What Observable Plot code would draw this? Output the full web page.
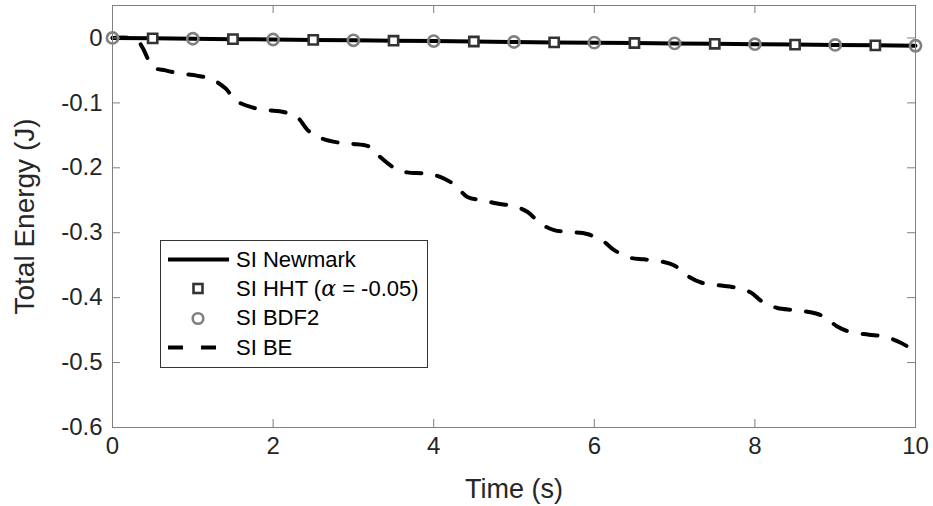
<!DOCTYPE html>
<html><head><meta charset="utf-8">
<script src="https://cdn.jsdelivr.net/npm/d3@7"></script>
<script src="https://cdn.jsdelivr.net/npm/@observablehq/plot@0.6"></script>
<style>
body{margin:0;background:#fff;}
#wrap{position:relative;width:933px;height:506px;}
#legend{position:absolute;left:160px;top:240px;height:128px;padding-right:8px;border:1px solid #333;background:#fff;font-family:"Liberation Sans",Arial,sans-serif;font-size:22px;color:#000;box-sizing:border-box;}
.row{height:29.3px;display:flex;align-items:center;white-space:nowrap;}
.row svg{width:75px;height:29px;flex:none;}
.greek{font-family:"DejaVu Serif","Liberation Serif",serif;font-style:italic;}
</style></head><body><div id="wrap"></div>
<script>
// ---- data ----
const newmarkT = [0,0.5,1,1.5,2,2.5,3,3.5,4,4.5,5,5.5,6,6.5,7,7.5,8,8.5,9,9.5,10];
const newmarkE = [0,-0.0006,-0.0012,-0.0018,-0.0024,-0.003,-0.0036,-0.0042,-0.0048,-0.0054,-0.0062,-0.0068,-0.0072,-0.0078,-0.0084,-0.009,-0.0096,-0.0102,-0.0108,-0.0114,-0.012];
const hhtT = [0.5,1.5,2.5,3.5,4.5,5.5,6.5,7.5,8.5,9.5];
const hhtE = [-0.0006,-0.0018,-0.003,-0.0042,-0.0054,-0.0068,-0.0078,-0.009,-0.0102,-0.0114];
const bdfT = [0,1,2,3,4,5,6,7,8,9,10];
const bdfE = [0,-0.0012,-0.0024,-0.0036,-0.0048,-0.0062,-0.0072,-0.0084,-0.0096,-0.0108,-0.012];
const beT = [0,0.3,0.37,0.51,0.66,0.85,1.05,1.24,1.41,1.53,1.74,1.93,2.13,2.30,2.44,2.59,2.81,2.98,3.21,3.34,3.52,3.67,3.90,4.08,4.27,4.42,4.60,4.79,4.99,5.17,5.33,5.50,5.70,5.91,6.10,6.24,6.43,6.62,6.82,6.99,7.18,7.34,7.55,7.74,7.95,8.09,8.28,8.48,8.67,8.86,9.02,9.19,9.42,9.61,9.81,10];
const beE = [0,-0.002,-0.014,-0.045,-0.050,-0.055,-0.058,-0.064,-0.078,-0.096,-0.107,-0.111,-0.114,-0.122,-0.143,-0.154,-0.161,-0.163,-0.168,-0.184,-0.201,-0.207,-0.209,-0.214,-0.227,-0.245,-0.250,-0.255,-0.259,-0.268,-0.286,-0.296,-0.299,-0.302,-0.312,-0.326,-0.338,-0.341,-0.344,-0.350,-0.368,-0.377,-0.381,-0.384,-0.392,-0.406,-0.416,-0.419,-0.422,-0.429,-0.444,-0.453,-0.457,-0.460,-0.469,-0.483];
const xTicks = [0,2,4,6,8,10];
const xTickLabels = ["0","2","4","6","8","10"];
const yTicks = [0,-0.1,-0.2,-0.3,-0.4,-0.5,-0.6];
const yTickLabels = ["0","-0.1","-0.2","-0.3","-0.4","-0.5","-0.6"];
const xLabel = "Time (s)";
const yLabel = "Total Energy (J)";
const seriesNames = ["SI Newmark","SI HHT","SI BDF2","SI BE"];

const newmark = newmarkT.map((t,i)=>({t, e:newmarkE[i]}));
const hht = hhtT.map((t,i)=>({t, e:hhtE[i]}));
const bdf = bdfT.map((t,i)=>({t, e:bdfE[i]}));
const be = beT.map((t,i)=>({t, e:beE[i]}));

const W = 933, H = 506, mL = 112, mR = 18, mT = 5, mB = 79;
const frameW = W - mL - mR, frameH = H - mT - mB, tickLen = 8;
const axisCol = "#808080", textCol = "#262626";

const chart = Plot.plot({
  width: W, height: H,
  marginLeft: mL, marginRight: mR, marginTop: mT, marginBottom: mB,
  style: {fontFamily: "'Liberation Sans', Arial, sans-serif", fontSize: "24px", color: textCol, background: "#fff"},
  x: {domain: [0,10]},
  y: {domain: [-0.6, 0.05]},
  marks: [
    Plot.line(be, {x:"t", y:"e", stroke:"#000", strokeWidth:4, strokeDasharray:"15,16", curve:"catmull-rom"}),
    Plot.line(newmark, {x:"t", y:"e", stroke:"#000", strokeWidth:4}),
    Plot.dot(hht, {x:"t", y:"e", symbol:"square", r:5.2, stroke:"#333", strokeWidth:2.6, fill:"#fff"}),
    Plot.dot(bdf, {x:"t", y:"e", symbol:"circle", r:5.6, stroke:"#808080", strokeWidth:2.6, fill:"none"}),
    Plot.frame({stroke: axisCol, strokeWidth: 1}),
    Plot.tickX(xTicks, {x: d=>d, insetTop: frameH - tickLen, stroke: axisCol}),
    Plot.tickX(xTicks, {x: d=>d, insetBottom: frameH - tickLen, stroke: axisCol}),
    Plot.tickY(yTicks, {y: d=>d, insetRight: frameW - tickLen, stroke: axisCol}),
    Plot.tickY(yTicks, {y: d=>d, insetLeft: frameW - tickLen, stroke: axisCol}),
    Plot.axisX({ticks: xTicks, tickSize: 0, tickPadding: 9, fontSize: 24, label: null,
      tickFormat: d => xTickLabels[xTicks.indexOf(d)]}),
    Plot.axisY({ticks: yTicks, tickSize: 0, tickPadding: 10, fontSize: 24, label: null,
      tickFormat: d => yTickLabels[yTicks.findIndex(v => Math.abs(v - d) < 1e-9)]}),
    Plot.text([xLabel], {text: d=>d, frameAnchor: "bottom", textAnchor: "middle", lineAnchor: "bottom", dy: 70, fontSize: 27, fill: textCol}),
    Plot.text([yLabel], {text: d=>d, frameAnchor: "left", textAnchor: "middle", lineAnchor: "bottom", rotate: -90, dx: -79, fontSize: 28, fill: textCol})
  ]
});
document.getElementById("wrap").appendChild(chart);

// ---- legend ----
const legend = document.createElement("div");
legend.id = "legend";
legend.style.paddingTop = "4px";
const rows = [
  {svg: '<line x1="7" x2="68" y1="14.5" y2="14.5" stroke="#000" stroke-width="4"/>', text: seriesNames[0]},
  {svg: '<rect x="32.5" y="10" width="9" height="9" fill="#fff" stroke="#333" stroke-width="2.6"/>', text: seriesNames[1] + ' (<span class="greek">α</span> = -0.05)'},
  {svg: '<circle cx="37" cy="14.5" r="5.3" fill="none" stroke="#808080" stroke-width="2.6"/>', text: seriesNames[2]},
  {svg: '<line x1="7" x2="68" y1="14.5" y2="14.5" stroke="#000" stroke-width="4" stroke-dasharray="15,18"/>', text: seriesNames[3]}
];
rows.forEach((r,i)=>{
  const d = document.createElement("div");
  d.className = "row";
  d.innerHTML = '<svg viewBox="0 0 75 29">' + r.svg + '</svg><span>' + r.text + '</span>';
  legend.appendChild(d);
});
document.getElementById("wrap").appendChild(legend);
</script>
</body></html>
